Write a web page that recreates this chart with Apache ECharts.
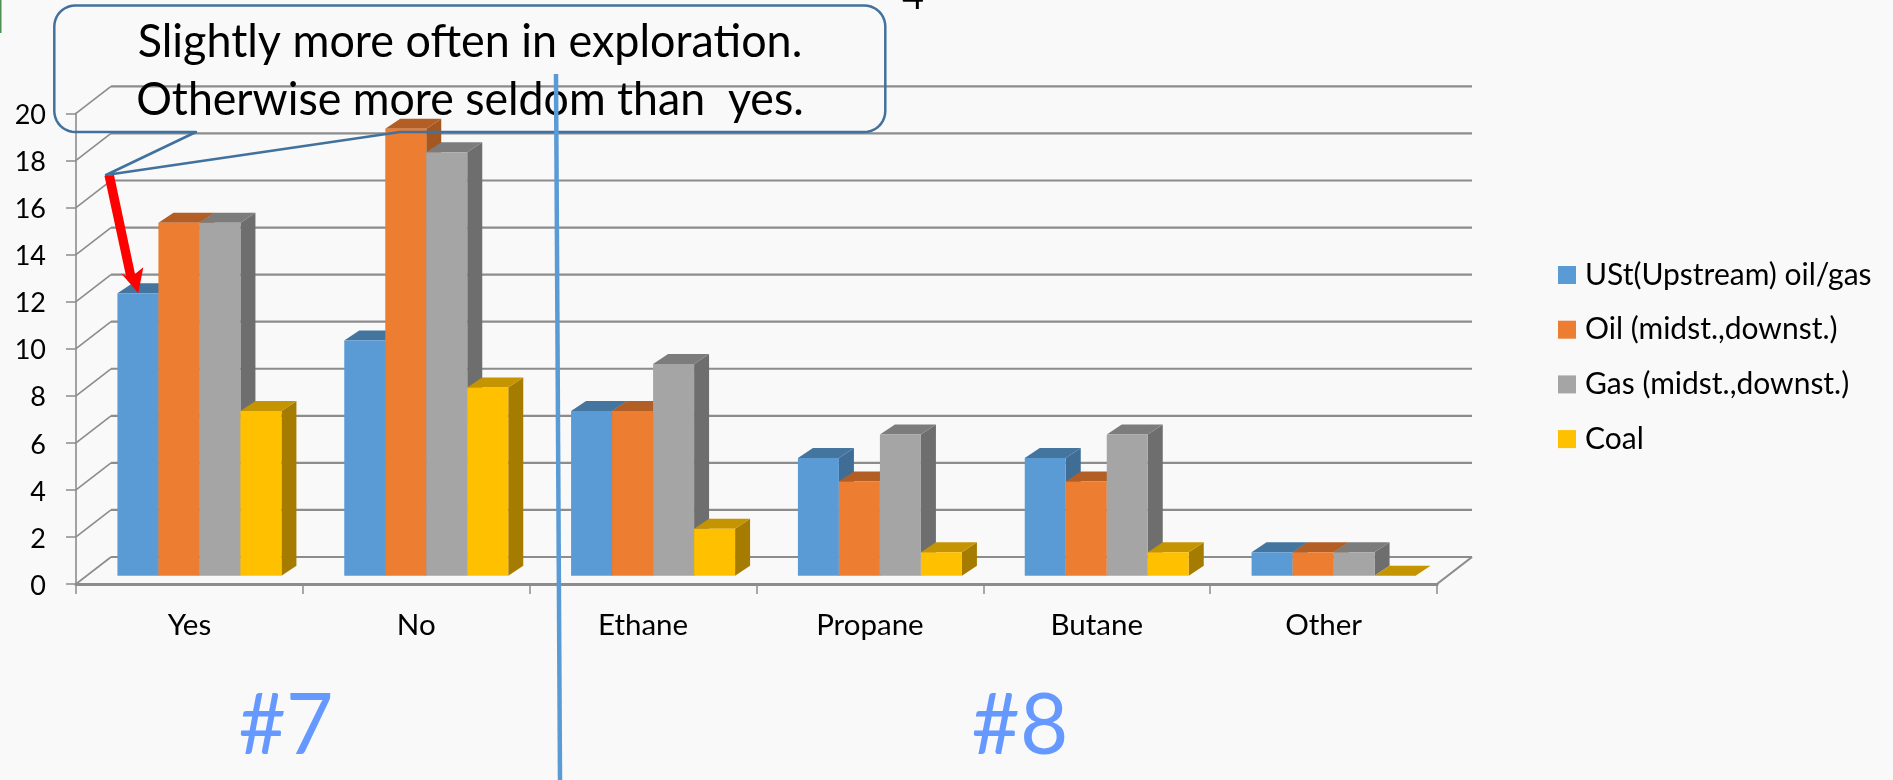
<!DOCTYPE html>
<html>
<head>
<meta charset="utf-8">
<style>html,body{margin:0;padding:0;background:#f9f9f9;overflow:hidden}#c{width:1893px;height:780px}</style>
<script src="https://cdn.jsdelivr.net/npm/echarts@6/dist/echarts.min.js"></script>
</head>
<body>
<div id="c"></div>
<script>
const categories = ['Yes', 'No', 'Ethane', 'Propane', 'Butane', 'Other'];
const upstream = [12, 10, 7, 5, 5, 1];
const oil = [15, 19, 7, 4, 4, 1];
const gas = [15, 18, 9, 6, 6, 1];
const coal = [7, 8, 2, 1, 1, 0];
const yTicks = [0, 2, 4, 6, 8, 10, 12, 14, 16, 18, 20];
const seriesNames = ['USt(Upstream) oil/gas', 'Oil (midst.,downst.)', 'Gas (midst.,downst.)', 'Coal'];

const FONT = 'Lato, Carlito, "Open Sans", sans-serif';
const LINE = '#8c8c8c';
const WALL = { dx: 35, dy: -27 };
const PLANE = { dx: 10, dy: -8.3 };
const DEPTH = { dx: 15, dy: -10 };
const BAR_W = 41;
const faces = [
  { front: '#5B9BD5', top: '#44759F', side: '#3F6D95' },
  { front: '#ED7D31', top: '#B25E25', side: '#A55722' },
  { front: '#A5A5A5', top: '#7C7C7C', side: '#6E6E6E' },
  { front: '#FFC000', top: '#C49500', side: '#A67C00' }
];

function poly(points, fill) {
  return { type: 'polygon', shape: { points }, style: { fill, stroke: null } };
}

function barRenderer(idx) {
  return function (params, api) {
    const cat = api.value(0), val = api.value(1);
    const t = api.coord([cat, val]);
    const b = api.coord([cat, 0]);
    const x0 = t[0] + PLANE.dx + (idx - 2) * BAR_W;
    const x1 = x0 + BAR_W;
    const yT = t[1] + PLANE.dy, yB = b[1] + PLANE.dy;
    const f = faces[idx];
    return {
      type: 'group',
      children: [
        poly([[x1, yT], [x1 + DEPTH.dx, yT + DEPTH.dy], [x1 + DEPTH.dx, yB + DEPTH.dy], [x1, yB]], f.side),
        poly([[x0, yT], [x1, yT], [x1 + DEPTH.dx, yT + DEPTH.dy], [x0 + DEPTH.dx, yT + DEPTH.dy]], f.top),
        { type: 'rect', shape: { x: x0, y: yT, width: BAR_W, height: yB - yT }, style: { fill: f.front } }
      ]
    };
  };
}

function wallRenderer(params, api) {
  const v = api.value(0);
  const p = api.coord([0, v]);
  const cs = params.coordSys;
  const xL = cs.x, xR = cs.x + cs.width, y = p[1];
  const kids = [
    { type: 'line', shape: { x1: xL, y1: y, x2: xL + WALL.dx, y2: y + WALL.dy }, style: { stroke: LINE, lineWidth: 1.6 } },
    { type: 'line', shape: { x1: xL + WALL.dx, y1: y + WALL.dy, x2: xR + WALL.dx, y2: y + WALL.dy }, style: { stroke: LINE, lineWidth: 2.2 } }
  ];
  if (v === 0) {
    kids.push({ type: 'line', shape: { x1: xR, y1: y, x2: xR + WALL.dx, y2: y + WALL.dy }, style: { stroke: LINE, lineWidth: 2.2 } });
  }
  return { type: 'group', children: kids };
}

const values = [upstream, oil, gas, coal];
const barSeries = seriesNames.map((name, i) => ({
  name,
  type: 'custom',
  coordinateSystem: 'cartesian2d',
  clip: false,
  z: 3 + i,
  encode: { x: 0, y: 1 },
  itemStyle: { color: faces[i].front },
  renderItem: barRenderer(i),
  data: values[i].map((v, c) => [c, v])
}));

const wallSeries = {
  name: 'walls',
  type: 'custom',
  coordinateSystem: 'cartesian2d',
  clip: false,
  z: 1,
  silent: true,
  encode: { y: 0 },
  renderItem: wallRenderer,
  data: yTicks.map(v => [v])
};

function corner(cx, cy, r, a0, a1) {
  const pts = [];
  for (let k = 0; k <= 10; k++) {
    const a = (a0 + (a1 - a0) * k / 10) * Math.PI / 180;
    pts.push([cx + r * Math.cos(a), cy + r * Math.sin(a)]);
  }
  return pts;
}
const L = 54.3, R = 885.3, T = 5.5, B = 132, CR = 21;
const calloutPoints = [].concat(
  corner(L + CR, T + CR, CR, 180, 270),
  corner(R - CR, T + CR, CR, 270, 360),
  corner(R - CR, B - CR, CR, 0, 90),
  [[400, B], [106, 175], [196, B]],
  corner(L + CR, B - CR, CR, 90, 180)
);

function label(text, cx, y, size, fill, sx) {
  return { type: 'text', z: 51, silent: true, x: cx, y: y, scaleX: sx,
    style: { text, x: 0, y: 0, align: 'center', verticalAlign: 'middle', font: size + 'px ' + FONT, fill } };
}

const chart = echarts.init(document.getElementById('c'), null, { renderer: 'canvas', width: 1893, height: 780 });
chart.setOption({
  animation: false,
  backgroundColor: '#f9f9f9',
  textStyle: { fontFamily: FONT },
  grid: { left: 76, top: 113.4, width: 1361, height: 470.6, containLabel: false },
  legend: {
    show: true,
    orient: 'vertical',
    left: 1558,
    top: 260,
    padding: 0,
    itemWidth: 18,
    itemHeight: 18,
    itemGap: 24.7,
    icon: 'rect',
    data: seriesNames,
    textStyle: { color: '#000', fontSize: 30, fontFamily: FONT, lineHeight: 27, padding: [0, 0, 0, 4] }
  },
  xAxis: {
    type: 'category',
    data: categories,
    boundaryGap: true,
    axisLine: { show: true, lineStyle: { color: LINE, width: 3 } },
    axisTick: { show: true, length: 10, lineStyle: { color: LINE, width: 1.5 } },
    axisLabel: { color: '#000', fontSize: 29.5, fontFamily: FONT, margin: 26, interval: 0 },
    splitLine: { show: false }
  },
  yAxis: {
    type: 'value',
    min: 0,
    max: 20,
    interval: 2,
    axisLine: { show: true, lineStyle: { color: LINE, width: 1.6 } },
    axisTick: { show: true, length: 10, lineStyle: { color: LINE, width: 1.5 } },
    axisLabel: { color: '#000', fontSize: 27, fontFamily: FONT, margin: 30, verticalAlign: 'top', lineHeight: 22, padding: [-9, 0, 0, 0] },
    splitLine: { show: false }
  },
  series: [wallSeries].concat(barSeries),
  graphic: [
    { type: 'polygon', z: 50, silent: true,
      shape: { points: calloutPoints },
      style: { fill: null, stroke: '#41719C', lineWidth: 2.5, lineJoin: 'round' } },
    label('Slightly more often in exploration.', 470, 42, 47, '#000', 0.955),
    label('Otherwise more seldom than  yes.', 470, 100, 47, '#000', 0.95),
    { type: 'polyline', z: 52, silent: true, shape: { points: [[556, 74], [560, 780]] }, style: { stroke: '#5B9BD5', lineWidth: 4.5, fill: null } },
    { type: 'polygon', z: 53, silent: true, shape: { points: [[104.5, 176], [114, 175], [135, 274], [143.3, 267.3], [138.3, 293], [121, 273.3], [126, 276]] }, style: { fill: '#FF0000' } },
    label('#7', 286, 726, 86, '#6699FF', 0.95),
    label('#8', 1020, 726, 86, '#6699FF', 0.97),
    { type: 'text', z: 51, silent: true, style: { text: '4', x: 913, y: 16, align: 'center', verticalAlign: 'bottom', font: '38px ' + FONT, fill: '#000' } },
    { type: 'rect', z: 51, silent: true, shape: { x: 0, y: 0, width: 1.5, height: 33 }, style: { fill: '#4F9155' } }
  ]
});
</script>
</body>
</html>
